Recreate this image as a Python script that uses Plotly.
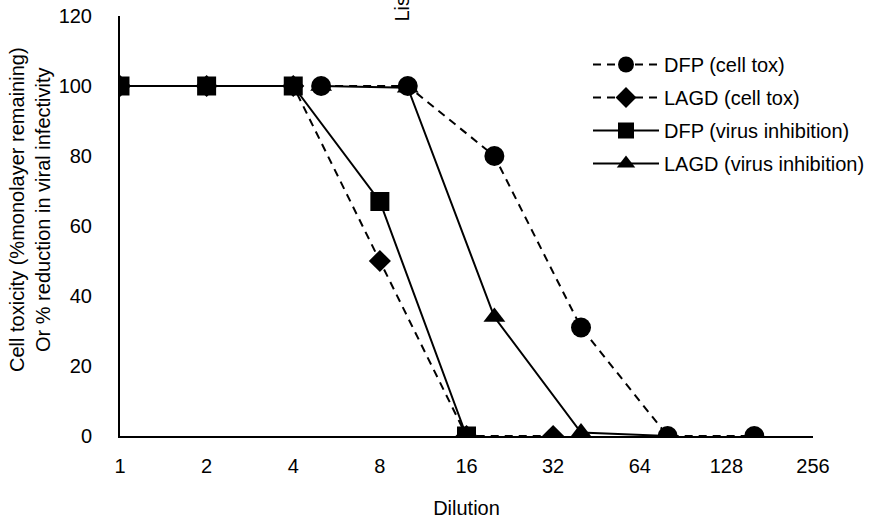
import plotly.graph_objects as go
import math

# Data
dil_dfp_tox = [5, 10, 20, 40, 80, 160]
val_dfp_tox = [100, 100, 80, 31, 0, 0]
dil_lagd_tox = [1, 2, 4, 8, 16, 32]
val_lagd_tox = [100, 100, 100, 50, 0, 0]
dil_dfp_vir = [1, 2, 4, 8, 16]
val_dfp_vir = [100, 100, 100, 67, 0]
dil_lagd_vir = [5, 10, 20, 40, 80]
val_lagd_vir = [100, 99.5, 34, 1, 0]

x_ticks = [1, 2, 4, 8, 16, 32, 64, 128, 256]
y_ticks = [0, 20, 40, 60, 80, 100, 120]

FONT = "Liberation Sans, Arial, sans-serif"
dash = "8px,6px"

fig = go.Figure()
fig.add_trace(go.Scatter(x=dil_dfp_tox, y=val_dfp_tox, name="DFP (cell tox)", mode="lines+markers",
                         line=dict(color="black", width=2, dash=dash),
                         marker=dict(symbol="circle", size=20, color="black"), legendgroup="a"))
fig.add_trace(go.Scatter(x=dil_lagd_tox, y=val_lagd_tox, name="LAGD (cell tox)", mode="lines+markers",
                         line=dict(color="black", width=2, dash=dash),
                         marker=dict(symbol="diamond", size=17, color="black"), legendgroup="b"))
fig.add_trace(go.Scatter(x=dil_dfp_vir, y=val_dfp_vir, name="DFP (virus inhibition)", mode="lines+markers",
                         line=dict(color="black", width=2),
                         marker=dict(symbol="square", size=19, color="black"), legendgroup="c"))
fig.add_trace(go.Scatter(x=dil_lagd_vir, y=val_lagd_vir, name="LAGD (virus inhibition)", mode="lines+markers",
                         line=dict(color="black", width=2),
                         marker=dict(symbol="triangle-up", size=19, color="black"), legendgroup="d"))

L, T, W, H = 120, 16, 693, 420

fig.update_layout(
    width=895, height=519,
    margin=dict(l=L, r=895 - L - W, t=T, b=519 - T - H, autoexpand=False),
    paper_bgcolor="white", plot_bgcolor="white",
    font=dict(family=FONT, size=20, color="black"),
    showlegend=True,
    legend=dict(x=(588 - L) / W, y=1 - (45 - T) / H,
                xanchor="left", yanchor="top", font=dict(size=20, color="black"),
                tracegroupgap=4, itemwidth=66, bgcolor="rgba(0,0,0,0)"),
    xaxis=dict(type="log", range=[math.log10(1), math.log10(256)],
               tickvals=x_ticks, ticktext=[str(v) for v in x_ticks],
               showgrid=False, zeroline=False, showline=True, linecolor="black", linewidth=2,
               ticks="", ticklabelstandoff=11,
               title=dict(text="Dilution", standoff=26, font=dict(size=20))),
    yaxis=dict(range=[0, 120], tickvals=y_ticks,
               showgrid=False, zeroline=False, showline=True, linecolor="black", linewidth=2,
               ticks="", ticklabelstandoff=22),
    annotations=[
        dict(text="List", textangle=-90, xref="paper", yref="paper",
             x=(401 - L) / W, y=1 + (T - 5.5) / H, xanchor="center", yanchor="middle",
             showarrow=False, font=dict(size=20, color="black")),
        dict(text="Cell toxicity (%monolayer remaining)<br>Or % reduction in viral infectivity",
             textangle=-90, xref="paper", yref="paper",
             x=(30 - L) / W, y=(T + H - 210) / H, xanchor="center", yanchor="middle",
             showarrow=False, font=dict(size=20, color="black")),
    ],
)

fig.write_html("out.html")
